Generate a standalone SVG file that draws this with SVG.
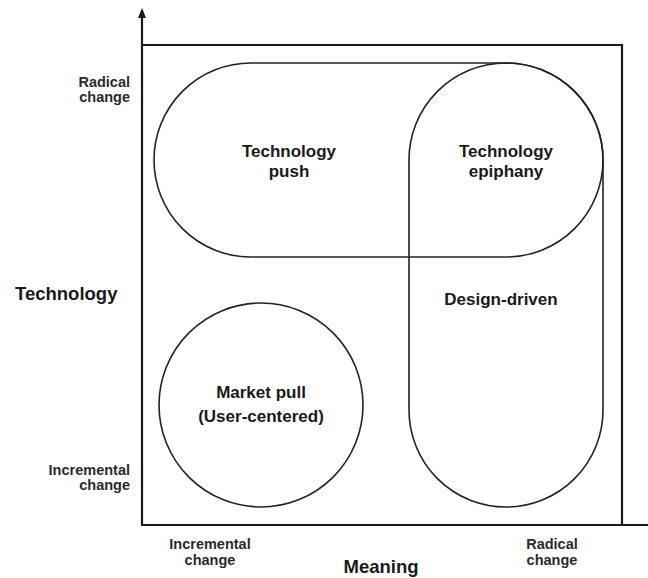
<svg xmlns="http://www.w3.org/2000/svg" width="648" height="578" viewBox="0 0 648 578">
<style>
.ax{fill:none;stroke:#1a1a1a;stroke-width:2.2}
.sh{fill:none;stroke:#222;stroke-width:1.6}
text{font-family:"Liberation Sans",Arial,sans-serif;fill:#1a1a1a}
.lab{font-size:14.5px;font-weight:bold;fill:#2a2a2a}
.in{font-size:17px;font-weight:bold;text-anchor:middle}
.big{font-size:18.5px;font-weight:bold}
</style>
<defs>
<marker id="arr" markerWidth="10" markerHeight="8" refX="8" refY="4" orient="auto" markerUnits="userSpaceOnUse" viewBox="0 0 10 8">
<path d="M0,0 L10,4 L0,8 Z" fill="#1a1a1a"/>
</marker>
</defs>
<g id="connectors">
<line class="ax" x1="142" y1="525" x2="142" y2="10" marker-end="url(#arr)"/>
<line class="ax" x1="141" y1="525" x2="648" y2="525"/>
<polyline class="ax" points="142,45 622,45 622,525"/>
</g>
<g id="technology-push">
<rect class="sh" x="154" y="63" width="449" height="194" rx="97" ry="97"/>
<text class="in" x="289" y="157">Technology</text>
<text class="in" x="289" y="177">push</text>
</g>
<g id="design-driven">
<rect class="sh" x="409" y="63" width="194" height="444" rx="97" ry="97"/>
<text class="in" x="501" y="305">Design-driven</text>
</g>
<g id="technology-epiphany">
<text class="in" x="506" y="157">Technology</text>
<text class="in" x="506" y="177">epiphany</text>
</g>
<g id="market-pull">
<circle class="sh" cx="261" cy="405" r="102"/>
<text class="in" x="261" y="398">Market pull</text>
<text class="in" x="261" y="422">(User-centered)</text>
</g>
<g id="axis-labels">
<text class="lab" x="130" y="87" text-anchor="end">Radical</text>
<text class="lab" x="130" y="102" text-anchor="end">change</text>
<text class="lab" x="130" y="475" text-anchor="end">Incremental</text>
<text class="lab" x="130" y="490" text-anchor="end">change</text>
<text class="big" x="15" y="300">Technology</text>
<text class="lab" x="210" y="549" text-anchor="middle">Incremental</text>
<text class="lab" x="210" y="565" text-anchor="middle">change</text>
<text class="lab" x="552" y="549" text-anchor="middle">Radical</text>
<text class="lab" x="552" y="565" text-anchor="middle">change</text>
<text class="big" x="381" y="573" text-anchor="middle">Meaning</text>
</g>
</svg>
